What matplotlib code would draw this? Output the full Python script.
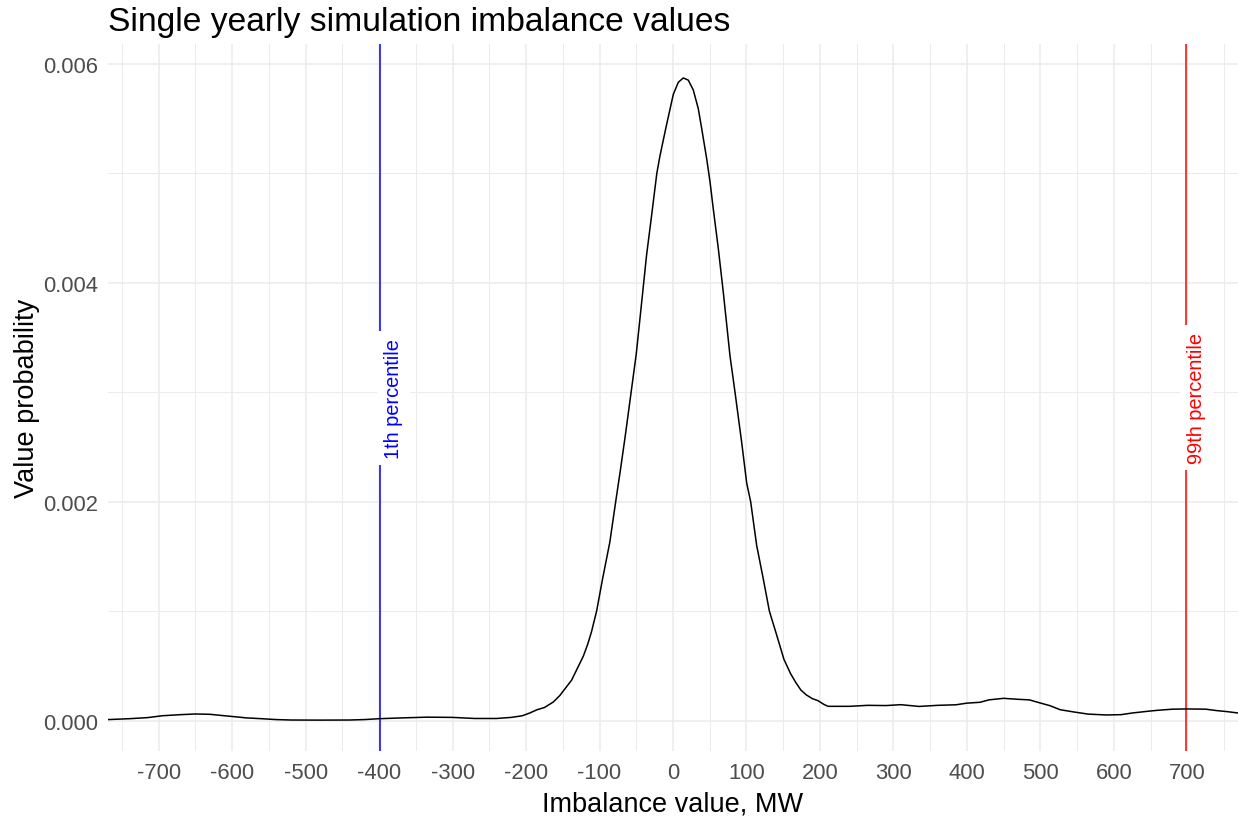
import matplotlib
matplotlib.use("Agg")
import matplotlib.pyplot as plt

# ---- data ----
imbalance = [-769, -740, -715, -695, -670, -650, -630, -612, -595, -580, -560, -540,
             -520, -480, -440, -420, -400, -370, -335, -300, -270, -240, -220, -205,
             -195, -185, -175, -163, -154, -146, -138, -130, -122, -116, -111, -104,
             -96, -86, -78, -72, -65, -58, -50, -45, -36, -29, -22, -17.7, -9.5, 0.4,
             7.2, 14, 20.8, 27.6, 34.4, 39, 45.9, 50.4, 54.9, 61.7, 68.5, 77.6, 84.4,
             93.5, 100.3, 105.7, 113.9, 123, 131.2, 141.2, 151, 160, 167, 174, 181.5,
             190, 197.3, 205, 211, 240, 265, 290, 310, 335, 360, 385, 400, 418, 430,
             450, 470, 485, 498, 513, 527, 545, 565, 590, 610, 625, 645, 660, 680,
             700, 725, 740, 755, 769]
density = [0.000010, 0.000018, 0.000028, 0.000045, 0.000055, 0.000061, 0.000058,
           0.000046, 0.000035, 0.000025, 0.000018, 0.000010, 0.000006, 0.000005,
           0.000006, 0.000010, 0.000018, 0.000025, 0.000032, 0.000030, 0.000020,
           0.000020, 0.000030, 0.000045, 0.000070, 0.000100, 0.000120, 0.000170,
           0.000230, 0.000300, 0.000370, 0.000480, 0.000590, 0.000700, 0.000810,
           0.001000, 0.001290, 0.001630, 0.002000, 0.002270, 0.002600, 0.002950,
           0.003350, 0.003670, 0.004250, 0.004620, 0.005000, 0.005160, 0.005420,
           0.005720, 0.005830, 0.005870, 0.005850, 0.005760, 0.005590, 0.005410,
           0.005130, 0.004920, 0.004670, 0.004310, 0.003910, 0.003330, 0.003000,
           0.002540, 0.002170, 0.002000, 0.001600, 0.001290, 0.001000, 0.000780,
           0.000560, 0.000430, 0.000350, 0.000280, 0.000235, 0.000200, 0.000183,
           0.000150, 0.000131, 0.000131, 0.000140, 0.000138, 0.000146, 0.000130,
           0.000140, 0.000145, 0.000160, 0.000168, 0.000190, 0.000204, 0.000195,
           0.000190, 0.000165, 0.000137, 0.000100, 0.000080, 0.000060, 0.000052,
           0.000055, 0.000070, 0.000085, 0.000095, 0.000105, 0.000107, 0.000105,
           0.000092, 0.000082, 0.000070]
p01 = -399
p99 = 698
p01_label = "1th percentile"
p99_label = "99th percentile"
x_ticks = list(range(-700, 701, 100))
x_tick_labels = [str(v) for v in x_ticks]
x_minor = list(range(-750, 751, 100))
y_ticks = [0.000, 0.002, 0.004, 0.006]
y_tick_labels = ["0.000", "0.002", "0.004", "0.006"]
y_minor = [0.001, 0.003, 0.005]
title = "Single yearly simulation imbalance values"
x_title = "Imbalance value, MW"
y_title = "Value probability"

plt.rcParams['font.family'] = ['Liberation Sans', 'DejaVu Sans']

W, H = 1238, 820
fig = plt.figure(figsize=(W / 100, H / 100), dpi=100)
left, right, top, bottom = 108, 1238, 45, 752
ax = fig.add_axes([left / W, 1 - bottom / H, (right - left) / W, (bottom - top) / H])
ax.set_xlim(-769, 769)
ax.set_ylim(-0.000277, 0.00618)
for s in ax.spines.values():
    s.set_visible(False)

ax.set_xticks(x_ticks)
ax.set_xticklabels(x_tick_labels)
ax.set_xticks(x_minor, minor=True)
ax.set_yticks(y_ticks)
ax.set_yticklabels(y_tick_labels)
ax.set_yticks(y_minor, minor=True)
ax.grid(which='major', color='#EBEBEB', lw=1.1)
ax.grid(which='minor', color='#EBEBEB', lw=0.7)
ax.set_axisbelow(True)
ax.tick_params(which='both', length=0)
ax.tick_params(axis='x', pad=8, labelsize=15.8, labelcolor='#4D4D4D')
ax.tick_params(axis='y', pad=7.2, labelsize=15.8, labelcolor='#4D4D4D')

ax.plot(imbalance, density, color='black', lw=1.1, zorder=3)
ax.axvline(p01, color='blue', lw=1.1, zorder=2)
ax.axvline(p99, color='red', lw=1.1, zorder=2)
ax.text(p01 + 18, 0.00295, p01_label, rotation=90, color='blue', fontsize=14.4,
        ha='center', va='center', zorder=4,
        bbox=dict(facecolor='white', edgecolor='none', pad=5))
ax.text(p99 + 15, 0.00295, p99_label, rotation=90, color='red', fontsize=14.4,
        ha='center', va='center', zorder=4,
        bbox=dict(facecolor='white', edgecolor='none', pad=5))

fig.text(left / W, 1 - 31 / H, title, fontsize=24.2, ha='left', va='baseline')
fig.text((left + right) / 2 / W, 1 - 812 / H, x_title, fontsize=19.5,
         ha='center', va='baseline')
fig.text(27 / W, 1 - (top + bottom) / 2 / H, y_title, fontsize=19.5,
         rotation=90, ha='center', va='center')

fig.savefig("out.png", dpi=100)
